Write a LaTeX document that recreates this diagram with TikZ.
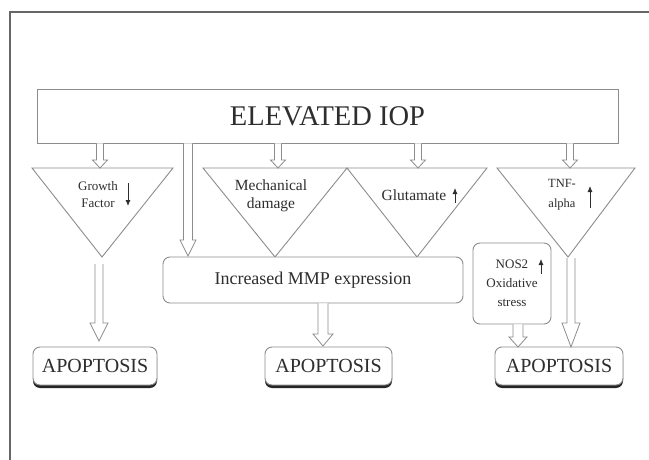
\documentclass[tikz,border=0pt]{standalone}
\usepackage{fontspec}
\setmainfont{Liberation Serif}
\usetikzlibrary{calc,shadows,arrows.meta}
\definecolor{linegray}{HTML}{8C8C8C}
\definecolor{framegray}{HTML}{666666}
\definecolor{txtgray}{HTML}{2E2E2E}
\tikzset{
  bsize/.code args={#1/#2/#3}{\def\bsw{#1}\def\bhw{#2}\def\bhl{#3}},
  blk/.style={draw=linegray, fill=white, line width=0.8pt, line join=miter,
    to path={let \p1=(\tikztostart),\p2=(\tikztotarget) in
      (\x1-\bsw,\y1) -- (\x1-\bsw,\y2+\bhl) -- (\x1-\bhw,\y2+\bhl) -- (\x1,\y2)
      -- (\x1+\bhw,\y2+\bhl) -- (\x1+\bsw,\y2+\bhl) -- (\x1+\bsw,\y1)}},
  tri/.style={draw=linegray, line width=0.9pt, fill=white},
  bigbox/.style={draw=linegray, line width=0.9pt, fill=white, inner sep=0pt},
  rbox/.style={draw=linegray, line width=0.9pt, fill=white, rounded corners=7pt, inner sep=0pt},
  apobox/.style={rbox, minimum height=38pt, text=txtgray,
    font=\fontsize{20}{24}\selectfont,
    drop shadow={shadow xshift=0pt, shadow yshift=-3pt, opacity=1, fill=black!85}},
  lbl/.style={text=txtgray, align=center, inner sep=0pt},
  tiny/.style={-{Latex[length=6pt,width=5pt]}, line width=0.8pt, draw=txtgray},
}
\begin{document}
\begin{tikzpicture}[x=1pt,y=-1pt]
\useasboundingbox (0,0) rectangle (649,460);
% frame
\draw[framegray, line width=1.4pt] (10,460) -- (10,12) -- (649,12);

% top box
\node[bigbox, minimum width=581pt, minimum height=54pt, text=txtgray,
  font=\fontsize{28.5}{34}\selectfont] (iop) at (327.5,116) {ELEVATED IOP};

% triangles
\coordinate (t1l) at (32,168);  \coordinate (t1r) at (173,168); \coordinate (t1a) at (102,257);
\coordinate (t2l) at (203,168); \coordinate (t2r) at (347,168); \coordinate (t2a) at (275,257);
\coordinate (t3l) at (347,168); \coordinate (t3r) at (487,168); \coordinate (t3a) at (417,257);
\coordinate (t4l) at (497,168); \coordinate (t4r) at (635,168); \coordinate (t4a) at (568,257);
\draw[tri] (t1l) -- (t1r) -- (t1a) -- cycle;
\draw[tri] (t2l) -- (t2r) -- (t2a) -- cycle;
\draw[tri] (t3l) -- (t3r) -- (t3a) -- cycle;
\draw[tri] (t4l) -- (t4r) -- (t4a) -- cycle;

\coordinate (t1t) at (100,168);
\coordinate (t2t) at (278,168);
\coordinate (t3t) at (418,168);
\coordinate (t4t) at (570,168);

% triangle labels
\node[lbl, font=\fontsize{13}{17}\selectfont] (gf) at (98,194.5) {Growth\\ Factor};
\node[lbl, font=\fontsize{15.5}{18}\selectfont] (mech) at (271,196) {Mechanical\\ damage};
\node[lbl, font=\fontsize{15.5}{18}\selectfont] (glu) at (414,195) {Glutamate};
\node[lbl, font=\fontsize{12.5}{20}\selectfont] (tnf) at (562,195) {TNF-\\ alpha};

% small up/down arrows
\coordinate (gfa1) at (128,183); \coordinate (gfa2) at (128,206);
\coordinate (glua1) at (455,203); \coordinate (glua2) at (455,188);
\coordinate (tnfa1) at (590,208); \coordinate (tnfa2) at (590,186);
\coordinate (nosa1) at (541,274); \coordinate (nosa2) at (541,259);
\draw[tiny] (gfa1) -- (gfa2);
\draw[tiny] (glua1) -- (glua2);
\draw[tiny] (tnfa1) -- (tnfa2);

% MMP box
\node[rbox, minimum width=300pt, minimum height=46pt, text=txtgray,
  font=\fontsize{18}{22}\selectfont] (mmp) at (313,280) {Increased MMP expression};

% NOS2 box
\node[rbox, minimum width=78pt, minimum height=81pt, text=txtgray, align=center,
  font=\fontsize{13}{19}\selectfont] (nos) at (512,283.5) {NOS2\\ Oxidative\\ stress};
\draw[tiny] (nosa1) -- (nosa2);

% apoptosis boxes
\node[apobox, minimum width=124pt] (ap1) at (95,366) {APOPTOSIS};
\node[apobox, minimum width=127pt] (ap2) at (328.5,366) {APOPTOSIS};
\node[apobox, minimum width=128pt] (ap3) at (559,366) {APOPTOSIS};

% arrows from top box
\draw[blk, bsize=3.5pt/7.5pt/8pt] (iop.south -| t1t) to (t1t);
\draw[blk, bsize=3.5pt/7.5pt/8pt] (iop.south -| t2t) to (t2t);
\draw[blk, bsize=3.5pt/7.5pt/8pt] (iop.south -| t3t) to (t3t);
\draw[blk, bsize=3.5pt/7.5pt/8pt] (iop.south -| t4t) to (t4t);
\coordinate (lng) at (188,256);
\draw[blk, bsize=4.5pt/8pt/16pt] (iop.south -| lng) to (lng);

% arrows to apoptosis
\coordinate (a1s) at (99,264);
\coordinate (a1e) at (99,341);
\draw[blk, bsize=4pt/9pt/18pt] (a1s) to (a1e);
\coordinate (a2x) at (323,346);
\draw[blk, bsize=5pt/10pt/12pt] (mmp.south -| a2x) to (a2x);
\coordinate (a3x) at (518,347);
\draw[blk, bsize=5pt/9pt/10pt] (nos.south -| a3x) to (a3x);
\coordinate (a4s) at (571,258);
\coordinate (a4e) at (571,347);
\draw[blk, bsize=4pt/9pt/24pt] (a4s) to (a4e);
\end{tikzpicture}
\end{document}
